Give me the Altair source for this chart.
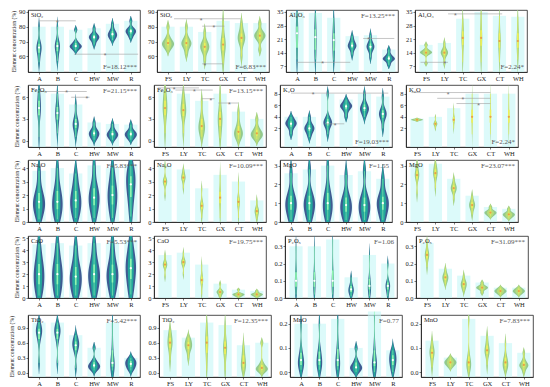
import altair as alt
import pandas as pd

SERIF = "Liberation Serif"

SITES_A = ["A", "B", "C", "HW", "MW", "R"]
SITES_B = ["FS", "LY", "TC", "GX", "CT", "WH"]

PANEL_LABELS = ["SiO₂", "SiO₂", "Al₂O₃", "Al₂O₃",
                "Fe₂O₃", "Fe₂O₃", "K₂O", "K₂O",
                "Na₂O", "Na₂O", "MgO", "MgO",
                "CaO", "CaO", "P₂O₅", "P₂O₅",
                "TiO₂", "TiO₂", "MnO", "MnO"]
F_TEXT = ["F=18.12***", "F=6.83***", "F=13.25***", "F=2.24*",
          "F=21.15***", "F=13.15***", "F=19.03***", "F=2.24*",
          "F=5.83***", "F=10.09***", "F=1.55", "F=23.07***",
          "F=5.53***", "F=19.75***", "F=1.06", "F=31.09***",
          "F=5.42***", "F=12.35***", "F=0.77", "F=7.83***"]
F_TOP = [False, False, True, False,
         True, True, False, False,
         True, True, True, True,
         True, True, True, True,
         True, True, True, True]
Y_DOMAINS = [[49.5, 91.3], [49.5, 91.3], [4, 36], [4, 36],
             [-0.9, 7.7], [-0.9, 7.7], [-1.2, 9.5], [-1.2, 9.5],
             [0, 4.6], [0, 4.6], [0, 3.3], [0, 3.3],
             [0, 5.2], [0, 5.2], [0, 0.36], [0, 0.36],
             [-0.08, 1.15], [-0.08, 1.15], [-0.02, 0.236], [-0.02, 0.236]]
Y_TICKS = [[60, 70, 80, 90], [60, 70, 80, 90], [7, 14, 21, 28, 35], [7, 14, 21, 28, 35],
           [0, 3, 6], [0, 3, 6], [2, 4, 6, 8], [2, 4, 6, 8],
           [0, 1, 2, 3, 4], [0, 1, 2, 3, 4], [0, 1, 2, 3], [0, 1, 2, 3],
           [0, 1, 2, 3, 4, 5], [0, 1, 2, 3, 4, 5], [0.0, 0.1, 0.2, 0.3], [0.0, 0.1, 0.2, 0.3],
           [0.0, 0.3, 0.6, 0.9], [0.0, 0.3, 0.6, 0.9], [0.0, 0.1, 0.2], [0.0, 0.1, 0.2]]
Y_FORMATS = ["d", "d", "d", "d", "d", "d", "d", "d", "d", "d", "d", "d",
             "d", "d", ".1f", ".1f", ".1f", ".1f", ".1f", ".1f"]

# samples per site (6 lists per panel)
SIO2_A = [[56, 61, 64, 66, 67, 70, 80], [57, 62, 65, 67, 68, 71, 80], [64, 66, 67, 66.5, 68, 70, 78],
          [68, 71, 72, 73, 74, 75, 79], [71, 73, 74, 75, 76, 78, 82], [72.5, 75, 76, 77, 78, 79, 84]]
SIO2_B = [[64.5, 67, 68, 69, 70, 73, 80], [61.5, 66, 68, 69, 70, 73, 80], [57, 63, 65, 66.5, 68, 70, 76.5],
          [55, 62, 66, 68, 70, 75, 84], [60, 68, 71, 72.5, 74, 77, 82.5], [64.5, 71, 73, 74, 75, 77, 82.5]]
AL2O3_A = [[10.5, 13, 20, 24, 26, 29, 35], [10.5, 13, 18, 22, 24, 28, 34.5], [10, 13, 17, 20.5, 22, 26, 32],
           [13, 16, 17, 17.6, 18.5, 20, 22.5], [11.5, 15, 16.5, 17, 18, 19.5, 23], [7.7, 10, 10.5, 11, 11.5, 13, 15.6]]
AL2O3_B = [[8.5, 13, 14, 14, 14.5, 15.5, 18], [8.5, 12, 13.5, 14, 14.5, 16, 19], [9, 16, 20, 21.6, 23, 27, 31.5],
           [9, 15, 20, 21.6, 23, 28, 35], [9, 15, 18, 20, 22, 26, 33], [10.4, 15, 18, 20, 22, 26, 32.5]]
FE2O3_A = [[0.5, 3, 4, 4.5, 5, 6, 7], [1, 2.5, 3.3, 3.8, 4.3, 5, 6.5], [0.5, 1.5, 2, 2.3, 2.6, 3.4, 5],
           [0.1, 0.5, 0.8, 1, 1.2, 1.6, 2.5], [0.1, 0.5, 0.7, 0.9, 1.1, 1.5, 2.3], [0.1, 0.5, 0.7, 0.9, 1.1, 1.4, 2.2]]
FE2O3_B = [[1, 3, 4, 4.5, 5, 6, 7], [1, 3, 3.8, 4.2, 4.6, 5.5, 6.5], [0.5, 1.2, 1.8, 2, 2.5, 3.5, 5.5],
           [0.3, 1.5, 2.5, 3, 3.5, 4.5, 6.5], [0.2, 0.6, 1, 1.2, 1.5, 2.5, 4], [0.2, 0.5, 0.8, 1, 1.2, 1.8, 3]]
K2O_A = [[1, 2, 2.6, 2.8, 3, 3.4, 4], [0.5, 1.3, 1.8, 2, 2.3, 2.8, 4], [1, 2.2, 2.8, 3, 3.3, 4, 8],
         [4, 5, 5.6, 5.8, 6, 6.3, 7], [4, 4.8, 5.2, 5.5, 5.8, 6.5, 8], [2, 3.5, 4.2, 4.5, 4.8, 5.5, 7.5]]
K2O_B = [[3.3, 3.4, 3.45, 3.5, 3.55, 3.6, 3.7], [2, 2.5, 2.7, 2.8, 2.9, 3.2, 4], [2, 3, 3.3, 3.5, 3.8, 4.2, 5.5],
         [1, 2.5, 3.5, 4, 4.5, 6, 8], [1, 2.5, 3.5, 4, 4.5, 6, 8], [1, 2.5, 3.5, 4, 4.5, 6, 8]]
NA2O_A = [[0.2, 0.8, 1.2, 1.5, 1.8, 2.5, 3.8], [0.2, 0.7, 1.2, 1.5, 2, 2.6, 4], [0.3, 0.8, 1.3, 1.6, 2, 2.6, 3.6],
          [0.3, 1, 1.5, 1.8, 2.2, 2.8, 4.2], [0.3, 1, 1.6, 2, 2.4, 3, 4], [0.4, 1.5, 2.2, 2.8, 3.2, 3.6, 4.2]]
NA2O_B = [[2, 2.7, 2.9, 3, 3.1, 3.3, 4.2], [2.5, 3, 3.2, 3.3, 3.4, 3.6, 3.9], [0.3, 0.8, 1.1, 1.2, 1.3, 1.6, 2.5],
          [0.3, 1.2, 1.6, 1.8, 2, 2.5, 3.5], [0.3, 1, 1.4, 1.5, 1.6, 2, 3], [0.2, 0.5, 0.7, 0.8, 0.9, 1.1, 1.6]]
MGO_A = [[0.1, 0.5, 0.8, 1, 1.2, 1.6, 2.6], [0.1, 0.5, 0.8, 1, 1.2, 1.6, 2.8], [0.1, 0.5, 0.8, 1, 1.3, 1.8, 3],
         [0.1, 0.4, 0.7, 0.9, 1.1, 1.5, 2.5], [0.1, 0.4, 0.7, 0.9, 1.1, 1.5, 2.7], [0.1, 0.5, 0.8, 1, 1.2, 1.5, 2.3]]
MGO_B = [[1.5, 2.2, 2.4, 2.5, 2.6, 2.8, 3.1], [1.8, 2.3, 2.5, 2.6, 2.7, 2.9, 3.1], [1.2, 1.6, 1.7, 1.8, 1.9, 2, 2.3],
         [0.4, 0.7, 0.8, 0.9, 1, 1.1, 1.4], [0.3, 0.4, 0.45, 0.5, 0.55, 0.6, 0.8], [0.2, 0.3, 0.35, 0.4, 0.45, 0.5, 0.7]]
CAO_A = [[0.2, 0.8, 1.5, 2, 2.5, 3.2, 4.5], [0.2, 0.8, 1.5, 2, 2.5, 3.2, 4.6], [0.2, 0.8, 1.4, 1.8, 2.2, 3, 4.4],
         [0.2, 1, 1.6, 2, 2.4, 3.2, 4.6], [0.2, 1, 1.6, 2, 2.4, 3.2, 4.6], [0.3, 1.2, 2, 2.5, 3, 3.6, 4.8]]
CAO_B = [[1.8, 2.5, 2.7, 2.8, 2.9, 3.1, 3.6], [2, 2.7, 2.9, 3, 3.1, 3.3, 3.8], [0.3, 1, 1.4, 1.5, 1.6, 2, 2.8],
         [0.1, 0.3, 0.45, 0.5, 0.55, 0.7, 1.2], [0.1, 0.2, 0.25, 0.3, 0.35, 0.4, 0.7], [0.1, 0.2, 0.25, 0.3, 0.35, 0.4, 0.6]]
P2O5_A = [[0.02, 0.05, 0.08, 0.1, 0.12, 0.18, 0.3], [0.02, 0.05, 0.08, 0.1, 0.12, 0.18, 0.3], [0.02, 0.05, 0.08, 0.1, 0.12, 0.2, 0.34],
          [0.01, 0.03, 0.04, 0.05, 0.06, 0.08, 0.12], [0.01, 0.04, 0.06, 0.07, 0.09, 0.13, 0.25], [0.01, 0.04, 0.06, 0.07, 0.08, 0.1, 0.2]]
P2O5_B = [[0.18, 0.22, 0.24, 0.25, 0.26, 0.28, 0.32], [0.08, 0.1, 0.11, 0.12, 0.13, 0.14, 0.17], [0.04, 0.06, 0.07, 0.08, 0.09, 0.1, 0.13],
          [0.03, 0.05, 0.055, 0.06, 0.065, 0.07, 0.09], [0.02, 0.03, 0.035, 0.04, 0.045, 0.05, 0.06], [0.02, 0.03, 0.035, 0.04, 0.045, 0.05, 0.06]]
TIO2_A = [[0.2, 0.6, 0.75, 0.8, 0.85, 0.9, 1.0], [0.2, 0.6, 0.75, 0.8, 0.85, 0.9, 1.0], [0.1, 0.4, 0.5, 0.55, 0.6, 0.65, 0.75],
          [0.05, 0.1, 0.12, 0.15, 0.18, 0.25, 0.5], [0.05, 0.1, 0.15, 0.2, 0.3, 0.6, 1.0], [0.05, 0.1, 0.15, 0.18, 0.22, 0.25, 0.3]]
TIO2_B = [[0.25, 0.45, 0.55, 0.6, 0.65, 0.75, 0.85], [0.3, 0.45, 0.5, 0.55, 0.58, 0.65, 0.7], [0.05, 0.3, 0.5, 0.6, 0.65, 0.8, 1.0],
          [0.05, 0.3, 0.45, 0.5, 0.55, 0.7, 0.95], [0.05, 0.1, 0.15, 0.2, 0.3, 0.4, 0.55], [0.02, 0.05, 0.08, 0.1, 0.12, 0.2, 0.6]]
MNO_A = [[0.01, 0.02, 0.04, 0.05, 0.06, 0.1, 0.2], [0.01, 0.02, 0.04, 0.05, 0.07, 0.1, 0.2], [0.01, 0.02, 0.03, 0.05, 0.07, 0.12, 0.22],
         [0.0, 0.01, 0.02, 0.02, 0.03, 0.05, 0.1], [0.0, 0.02, 0.03, 0.04, 0.06, 0.12, 0.25], [0.0, 0.02, 0.04, 0.05, 0.06, 0.08, 0.09]]
MNO_B = [[0.02, 0.05, 0.07, 0.08, 0.09, 0.1, 0.13], [0.02, 0.03, 0.035, 0.04, 0.045, 0.05, 0.06], [0.0, 0.02, 0.03, 0.04, 0.05, 0.08, 0.22],
         [0.03, 0.07, 0.08, 0.09, 0.1, 0.12, 0.15], [0.01, 0.02, 0.03, 0.04, 0.05, 0.07, 0.12], [0.0, 0.02, 0.025, 0.03, 0.035, 0.05, 0.08]]

SAMPLES = [SIO2_A, SIO2_B, AL2O3_A, AL2O3_B, FE2O3_A, FE2O3_B, K2O_A, K2O_B,
           NA2O_A, NA2O_B, MGO_A, MGO_B, CAO_A, CAO_B, P2O5_A, P2O5_B,
           TIO2_A, TIO2_B, MNO_A, MNO_B]

# significance brackets: panel, x-from, x-to, y, star position
BR_PANEL = [0, 0, 1, 1, 1, 2, 2, 3, 3, 4, 4, 5, 5, 5, 5, 6, 6, 7, 7, 7]
BR_X1 = [0, 1.9, 0.33, 1.86, 1.86, 0, 3.6, 1.2, -0.3, 0.08, 1.75, -0.4, 0.57, 2, 2.9, 0, 1.85, -0.3, 1.1, 2.15]
BR_X2 = [2.0, 5.4, 3.96, 3.07, 3.0, 2.9, 5.3, 4.15, 1.2, 2.6, 2.75, 1.85, 2.6, 2.7, 4.0, 5.3, 2.9, 4.0, 4.0, 4.0]
BR_Y = [84, 61.5, 85.4, 80.4, 55, 9, 21.3, 34, 9, 6.8, 6.0, 7.3, 7.0, 5.8, 5.2, 8.1, 2.8, 8.2, 7.2, 6.3]
BR_XS = [1.0, 3.6, 1.8, 2.5, 2.0, 1.4, 3.9, 1.6, 1.03, 1.5, 2.6, 0.5, 1.6, 2.5, 3.5, 1.2, 2.4, 1.7, 2.5, 3.35]

# half-width of the widest violin in each panel (style)
VIOLIN_HALF = [0.33, 0.33, 0.33, 0.33, 0.33, 0.33, 0.33, 0.33,
               0.33, 0.12, 0.33, 0.33, 0.33, 0.33, 0.15, 0.33,
               0.33, 0.33, 0.33, 0.33]

rows = []
for p, groups in enumerate(SAMPLES):
    for i, vals in enumerate(groups):
        for v in vals:
            rows.append({"panel": p, "idx": i, "v": v})
DF = pd.DataFrame(rows)
DF_BR = pd.DataFrame({"panel": BR_PANEL, "x1": BR_X1, "x2": BR_X2, "y": BR_Y, "xs": BR_XS})
DF_LBL = pd.DataFrame({"panel": list(range(20)), "label": PANEL_LABELS, "ftext": F_TEXT})

W, H = 112, 62


def panel(p):
    r, c = divmod(p, 4)
    sites = SITES_A if c % 2 == 0 else SITES_B
    d0, d1 = Y_DOMAINS[p]
    blue = (c % 2 == 0)
    outer_col = "#3f5b92" if blue else "#93c98d"
    inner_col = "#23a69b" if blue else "#b8dc79"
    line_col = "#8ff5b0" if blue else "#eef05a"
    med_col = "#ffffff" if blue else "#e8a048"
    half = VIOLIN_HALF[p]

    xscale = alt.Scale(domain=[-0.6, 5.5], nice=False, zero=False)
    yscale = alt.Scale(domain=[d0, d1], nice=False, zero=False)
    label_expr = "[" + ",".join("'%s'" % s for s in sites) + "][datum.value]"
    xaxis = alt.Axis(values=list(range(6)), labelExpr=label_expr, title="", grid=False)
    ykw = dict(values=Y_TICKS[p], format=Y_FORMATS[p], grid=False)
    ykw["title"] = "Element concentration (%)" if c == 0 else ""
    yaxis = alt.Axis(**ykw)

    def X(f):
        return alt.X(f, type="quantitative", scale=xscale, axis=xaxis)

    def Y(f):
        return alt.Y(f, type="quantitative", scale=yscale, axis=yaxis)

    base = alt.Chart(DF).transform_filter(alt.datum.panel == p)

    bg = base.transform_aggregate(top="max(v)", groupby=["idx"]).transform_calculate(
        xa="datum.idx - 0.36", xb="datum.idx + 0.36", y0=str(d0)
    ).mark_rect(color="#c4f6f6", opacity=0.6).encode(x=X("xa"), x2="xb", y=Y("y0"), y2="top")

    def violin(frac, color):
        return base.transform_density(
            "v", groupby=["idx"], as_=["val", "dens"], extent=[d0, d1], steps=400
        ).transform_joinaggregate(gmax="max(dens)", groupby=["idx"]).transform_filter(
            "datum.dens > 0.03 * datum.gmax"
        ).transform_joinaggregate(pmax="max(dens)").transform_calculate(
            xl="datum.idx - %f * datum.dens / datum.pmax" % frac,
            xr="datum.idx + %f * datum.dens / datum.pmax" % frac,
        ).mark_area(orient="horizontal", color=color, clip=True).encode(
            y=Y("val"), x=X("xl"), x2="xr", detail="idx:N"
        )

    stats = base.transform_aggregate(
        lo="min(v)", hi="max(v)", q1="q1(v)", q3="q3(v)", med="median(v)", groupby=["idx"]
    )
    whisk = stats.mark_rule(color=line_col, strokeWidth=0.6).encode(x=X("idx"), y=Y("lo"), y2="hi")
    box = stats.mark_rule(color=line_col, strokeWidth=1.6).encode(x=X("idx"), y=Y("q1"), y2="q3")
    med = stats.mark_point(filled=True, color=med_col, size=5, opacity=1).encode(x=X("idx"), y=Y("med"))

    br = alt.Chart(DF_BR).transform_filter(alt.datum.panel == p)
    rules = br.mark_rule(color="#a0a0a0", strokeWidth=0.6).encode(x=X("x1"), x2="x2", y=Y("y"))
    stars = br.mark_text(text="*", fontSize=7, color="#777777", baseline="middle", dy=2).encode(
        x=X("xs"), y=Y("y"))

    lb = alt.Chart(DF_LBL).transform_filter(alt.datum.panel == p)
    lbl = lb.mark_text(align="left", baseline="top", font=SERIF, fontSize=6.5, color="#222222").encode(
        x=alt.value(3), y=alt.value(2), text="label:N")
    ftxt = lb.mark_text(align="right", baseline="top" if F_TOP[p] else "bottom", font=SERIF,
                        fontSize=7, color="#555555").encode(
        x=alt.value(W - 3), y=alt.value(2 if F_TOP[p] else H - 2), text="ftext:N")

    return alt.layer(bg, violin(half, outer_col), violin(half * 0.58, inner_col), whisk, box, med,
                     rules, stars, lbl, ftxt).properties(width=W, height=H)


grid_rows = [alt.hconcat(*[panel(r * 4 + c) for c in range(4)], spacing=6) for r in range(5)]
chart = alt.vconcat(*grid_rows, spacing=2).properties(
    padding={"left": 0, "top": 0, "right": 0, "bottom": 0}
).configure_view(stroke="#222222", strokeWidth=0.8).configure_axis(
    labelFont=SERIF, labelFontSize=6.5, labelColor="#222222", labelPadding=1,
    tickSize=2, tickColor="#222222", domainColor="#222222", domainWidth=0.8, tickWidth=0.6,
    titleFont=SERIF, titleFontSize=5.7, titleFontWeight="normal", titleColor="#222222", titlePadding=2
)

chart.save("out.html", embed_options={"renderer": "svg", "actions": False})
